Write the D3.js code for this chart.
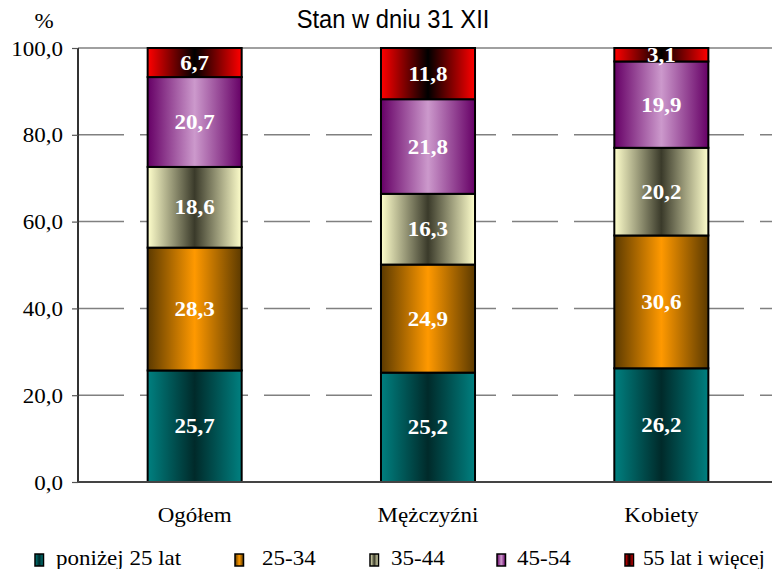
<!DOCTYPE html>
<html>
<head>
<meta charset="utf-8">
<script src="https://cdn.jsdelivr.net/npm/d3@7"></script>
<style>
  body { margin: 0; background: #fff; }
  svg { display: block; }
</style>
</head>
<body>
<div id="chart"></div>
<script>
// Age structure, stacked 100% bars
var categories = ['Ogółem', 'Mężczyźni', 'Kobiety']
var seriesNames = ['poniżej 25 lat', '25-34', '35-44', '45-54', '55 lat i więcej']
var under25 = [25.7, 25.2, 26.2]
var age25to34 = [28.3, 24.9, 30.6]
var age35to44 = [18.6, 16.3, 20.2]
var age45to54 = [20.7, 21.8, 19.9]
var age55plus = [6.7, 11.8, 3.1]
var yTicks = [0, 20, 40, 60, 80, 100]

// edge colour, centre colour for each series' horizontal gradient
var gradStops = [
  ['#008080', '#002a2a'],
  ['#5c3a00', '#ff9900'],
  ['#ffffcc', '#3a3a2a'],
  ['#660066', '#cc99cc'],
  ['#ff0000', '#000000']
]

var width = 772
var height = 569
var stretch = 1.15 // the serif text in the original is drawn wider than normal
var svg = d3.select('#chart').append('svg').attr('width', width).attr('height', height)

var defs = svg.append('defs')
gradStops.forEach(function (c, i) {
  var g = defs.append('linearGradient').attr('id', 'grad' + i)
    .attr('x1', '0%').attr('x2', '100%').attr('y1', '0%').attr('y2', '0%')
  g.append('stop').attr('offset', '0%').attr('stop-color', c[0])
  g.append('stop').attr('offset', '50%').attr('stop-color', c[1])
  g.append('stop').attr('offset', '100%').attr('stop-color', c[0])
})

var x = d3.scaleBand().domain(categories).range([78, 778]).paddingInner(0.597).paddingOuter(0.2985)
var y = d3.scaleLinear().domain([0, 100]).range([482, 48])

var rows = categories.map(function (c, i) {
  return { cat: c, s0: under25[i], s1: age25to34[i], s2: age35to44[i], s3: age45to54[i], s4: age55plus[i] }
})
var stack = d3.stack().keys(['s0', 's1', 's2', 's3', 's4'])
var layers = stack(rows)

var serif = "'Liberation Serif', 'Times New Roman', serif"
var fmt = function (v) { return d3.format('.1f')(v).replace('.', ',') }

// helper: place stretched serif text at x,y
function stretched (sel, fx, fy) {
  return sel.attr('transform', function (d, i) {
    return 'translate(' + fx(d, i) + ',' + fy(d, i) + ') scale(' + stretch + ',1)'
  })
}

// gridlines
svg.append('g').selectAll('line').data(yTicks.filter(function (t) { return t > 0 && t < 100 }))
  .enter().append('line')
  .attr('x1', 78).attr('x2', 772)
  .attr('y1', function (d) { return y(d) }).attr('y2', function (d) { return y(d) })
  .attr('stroke', '#808080').attr('stroke-width', 1.5)
  .attr('stroke-dasharray', '46,16')
svg.append('line').attr('x1', 78).attr('x2', 772).attr('y1', y(100)).attr('y2', y(100))
  .attr('stroke', '#808080').attr('stroke-width', 1.5)

// bars
var layerG = svg.append('g').selectAll('g').data(layers).enter().append('g')
  .attr('fill', function (d, i) { return 'url(#grad' + i + ')' })
layerG.selectAll('rect').data(function (d) { return d }).enter().append('rect')
  .attr('x', function (d) { return x(d.data.cat) })
  .attr('width', x.bandwidth())
  .attr('y', function (d) { return y(d[1]) })
  .attr('height', function (d) { return y(d[0]) - y(d[1]) })
  .attr('stroke', '#000').attr('stroke-width', 2)

// value labels
stretched(layerG.selectAll('text').data(function (d) { return d }).enter().append('text'),
  function (d) { return x(d.data.cat) + x.bandwidth() / 2 },
  function (d) { return (y(d[0]) + y(d[1])) / 2 + 7 })
  .attr('text-anchor', 'middle')
  .attr('fill', '#fff')
  .attr('font-family', serif).attr('font-weight', 'bold').attr('font-size', 20)
  .text(function (d) { return fmt(d[1] - d[0]) })

// axes
var yAxis = d3.axisLeft(y).tickValues(yTicks).tickSize(6).tickFormat(fmt)
var yg = svg.append('g').attr('transform', 'translate(78,0)').call(yAxis)
yg.select('.domain').attr('stroke', '#333').attr('stroke-width', 2).attr('d', 'M0,' + y(100) + 'V' + y(0))
yg.selectAll('.tick line').attr('stroke', '#555').attr('stroke-width', 1.2)
yg.selectAll('.tick text').attr('font-family', serif).attr('font-size', 20).attr('fill', '#000')
  .attr('x', null).attr('dy', '0.35em')
  .attr('transform', 'translate(-15,0) scale(' + stretch + ',1)')

svg.append('line').attr('x1', 78).attr('x2', 772).attr('y1', y(0)).attr('y2', y(0))
  .attr('stroke', '#444').attr('stroke-width', 2)

stretched(svg.append('g').selectAll('text').data(categories).enter().append('text'),
  function (d) { return x(d) + x.bandwidth() / 2 },
  function () { return 522 })
  .attr('text-anchor', 'middle')
  .attr('font-family', serif).attr('font-size', 20)
  .text(function (d) { return d })

// titles
svg.append('text').attr('transform', 'translate(44,28) scale(' + stretch + ',1)').attr('text-anchor', 'middle')
  .attr('font-family', serif).attr('font-size', 20).text('%')
svg.append('text').attr('transform', 'translate(393,28) scale(0.95,1)').attr('text-anchor', 'middle')
  .attr('font-family', "'Liberation Sans', Arial, sans-serif").attr('font-size', 25)
  .text('Stan w dniu 31 XII')

// legend
var legendX = [35, 235, 370, 497, 625]
var legendTextX = [56, 262, 391, 517, 643]
var lg = svg.append('g').selectAll('g').data(seriesNames).enter().append('g')
lg.append('rect')
  .attr('x', function (d, i) { return legendX[i] })
  .attr('y', 554)
  .attr('width', 8.5).attr('height', 12)
  .attr('fill', function (d, i) { return 'url(#grad' + i + ')' })
  .attr('stroke', '#000').attr('stroke-width', 1.5)
lg.append('text')
  .attr('transform', function (d, i) {
    // last entry is squeezed a little so it stays inside the window
    var s = i === seriesNames.length - 1 ? 1.08 : stretch
    return 'translate(' + legendTextX[i] + ',565) scale(' + s + ',1)'
  })
  .attr('font-family', serif).attr('font-size', 20)
  .text(function (d) { return d })
</script>
</body>
</html>
